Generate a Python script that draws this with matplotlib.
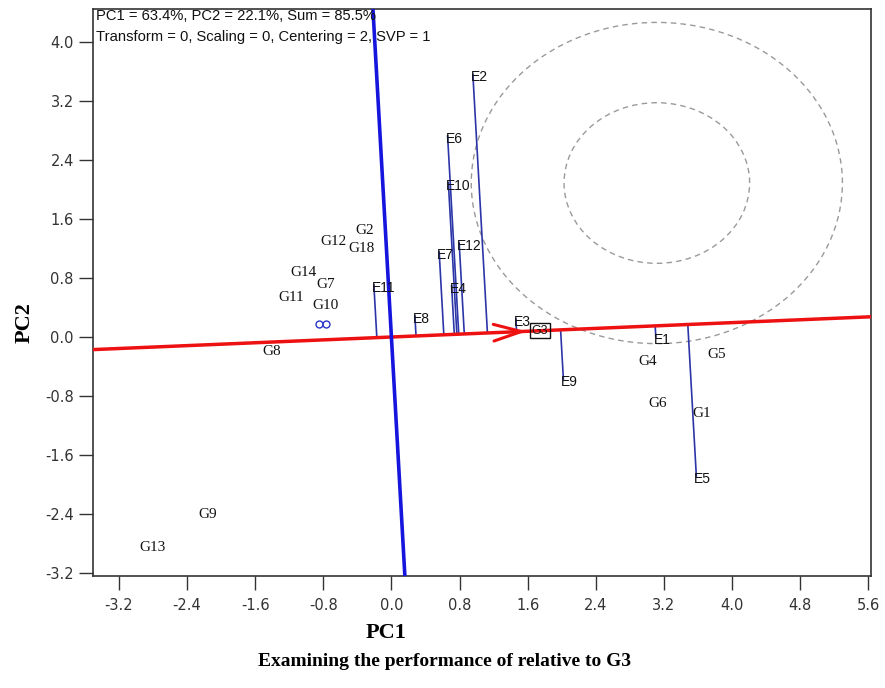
import numpy as np
import matplotlib
matplotlib.use("Agg")
import matplotlib.pyplot as plt
from matplotlib.patches import Circle

# ---------------- data ----------------
gen_labels = ["G1", "G2", "G4", "G5", "G6", "G7", "G8", "G9", "G10",
              "G11", "G12", "G13", "G14", "G18"]
gen_x = [3.646, -0.311, 3.012, 3.823, 3.130, -0.769, -1.403, -2.161, -0.769,
         -1.180, -0.675, -2.801, -1.028, -0.346]
gen_y = [-1.032, 1.439, -0.339, -0.231, -0.896, 0.719, -0.190, -2.403, 0.421,
         0.543, 1.290, -2.851, 0.869, 1.195]

ref_label = "G3"
ref_x = 1.744
ref_y = 0.085

env_labels = ["E1", "E2", "E3", "E4", "E5", "E6", "E7", "E8", "E9", "E10", "E11", "E12"]
env_x = [3.106, 0.957, 1.462, 0.707, 3.582, 0.660, 0.561, 0.276, 2.020, 0.669, -0.206, 0.796]
env_y = [0.000, 3.564, 0.244, 0.692, -1.887, 2.728, 1.154, 0.285, -0.570, 2.091, 0.706, 1.276]

extra_x = [-0.850, -0.765]
extra_y = [0.183, 0.183]

circle_center = (3.118, 2.090)
circle_radii = [1.09, 2.18]

xticks = [-3.2, -2.4, -1.6, -0.8, 0.0, 0.8, 1.6, 2.4, 3.2, 4.0, 4.8, 5.6]
yticks = [-3.2, -2.4, -1.6, -0.8, 0.0, 0.8, 1.6, 2.4, 3.2, 4.0]

info1 = "PC1 = 63.4%, PC2 = 22.1%, Sum = 85.5%"
info2 = "Transform = 0, Scaling = 0, Centering = 2, SVP = 1"

# ---------------- figure ----------------
W, H = 885, 688
fig = plt.figure(figsize=(W / 100, H / 100), dpi=100)
L, R, T, B = 93.3, 870.5, 9.0, 575.5
ax = fig.add_axes([L / W, 1 - B / H, (R - L) / W, (B - T) / H])
xl = (-3.502, 5.628)
yl = (-3.237, 4.452)
ax.set_xlim(*xl)
ax.set_ylim(*yl)

# circles
for r in circle_radii:
    ax.add_patch(Circle(circle_center, r, fill=False, ec="#9a9a9a", lw=1.0,
                        ls=(0, (4, 3)), zorder=1))

# AEC abscissa (through origin and reference genotype) and ordinate
s = ref_y / ref_x
ax.plot([xl[0], xl[1]], [s * xl[0], s * xl[1]], color="#ee1111", lw=2.5, zorder=4)
ax.plot([-s * yl[0], -s * yl[1]], [yl[0], yl[1]], color="#1515dd", lw=2.6, zorder=4)

# environment projections onto the abscissa
norm2 = 1 + s * s
for lab, x, y in zip(env_labels, env_x, env_y):
    t = (x + s * y) / norm2
    fx, fy = t, s * t
    ax.plot([x, fx], [y, fy], color="#2b35a8", lw=1.2, zorder=3)
    ax.annotate(lab, (x, y), xytext=(-1.5, 3), textcoords="offset points",
                ha="left", va="top", fontsize=10, family="Liberation Sans",
                color="#111111", zorder=5)

# genotypes
for lab, x, y in zip(gen_labels, gen_x, gen_y):
    ax.text(x, y, lab, ha="center", va="center", fontsize=11,
            family="Liberation Serif", color="#111111", zorder=5)

ax.plot(extra_x, extra_y, ls="none", marker="o", ms=5, mfc="none",
        mec="#2b35c8", mew=1.0, zorder=5)

# reference genotype with box
ax.text(ref_x, ref_y, ref_label, ha="center", va="center", fontsize=9,
        family="Liberation Sans", color="#111111", zorder=6,
        bbox=dict(boxstyle="square,pad=0.12", fc="none", ec="#111111", lw=1.0))

# arrow head pointing to the reference genotype
tip = 0.93
ax.annotate("", xy=(ref_x * tip, ref_y * tip), xytext=(ref_x * (tip - 0.1), ref_y * (tip - 0.1)),
            arrowprops=dict(arrowstyle="->,head_length=1.0,head_width=0.3",
                            color="#ee1111", lw=2.2, mutation_scale=20),
            zorder=6)

# ticks & spines
ax.set_xticks(xticks)
ax.set_yticks(yticks)
ax.set_xticklabels([f"{v:.1f}" for v in xticks])
ax.set_yticklabels([f"{v:.1f}" for v in yticks])
ax.tick_params(axis="both", direction="out", length=10, width=1.0, color="#333333",
               labelsize=10.5, labelcolor="#333333")
ax.tick_params(axis="x", pad=6)
ax.tick_params(axis="y", pad=4)
for sp in ax.spines.values():
    sp.set_color("#333333")
    sp.set_linewidth(1.2)

# info text
fig.text(96.5 / W, 1 - 16.5 / H, info1, ha="left", va="center", fontsize=10.6,
         family="Liberation Sans", color="#111111")
fig.text(96.5 / W, 1 - 37 / H, info2, ha="left", va="center", fontsize=10.6,
         family="Liberation Sans", color="#111111")

# axis labels & caption
fig.text(386 / W, 1 - 633 / H, "PC1", ha="center", va="center", fontsize=16,
         family="Liberation Serif", weight="bold")
fig.text(25 / W, 1 - 323 / H, "PC2", ha="center", va="center", fontsize=16,
         family="Liberation Serif", weight="bold", rotation=90)
fig.text(444 / W, 1 - 661 / H, "Examining the performance of relative to G3",
         ha="center", va="center", fontsize=14, family="Liberation Serif",
         weight="bold")

fig.savefig("out.png", dpi=100)
